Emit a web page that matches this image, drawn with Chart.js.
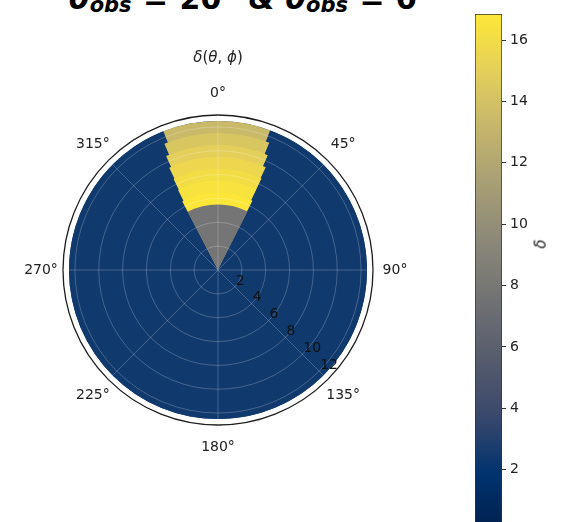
<!DOCTYPE html>
<html><head><meta charset="utf-8">
<script src="https://cdn.jsdelivr.net/npm/chart.js@4/dist/chart.umd.min.js"></script>
<style>
html,body{margin:0;padding:0;width:564px;height:522px;overflow:hidden;background:#fff;}
#wrap{position:relative;width:564px;height:522px;overflow:hidden;}
#polar{position:absolute;left:0;top:0;}
#cbar{position:absolute;left:470px;top:0;}
#suptitle{position:absolute;left:69px;top:-16px;font:bold 30px 'DejaVu Sans';white-space:nowrap;color:#000;line-height:30px;word-spacing:1px;}
#suptitle sub{font-size:21px;vertical-align:-3px;line-height:0;}
#cblabel{position:absolute;left:536px;top:235px;font:italic 15px 'DejaVu Sans';transform:rotate(-90deg);color:#222;}
</style></head>
<body><div id="wrap">
<div id="suptitle"><i>θ</i><sub><i>obs</i></sub> = 20° &amp; <i>θ</i><sub><i>obs</i></sub> = 0°</div>
<canvas id="polar" width="564" height="522"></canvas>
<canvas id="cbar" width="94" height="546"></canvas>
<div id="cblabel">δ</div>
</div>
<script>
// ---- data ----
const thetaLabels = ['0°','45°','90°','135°','180°','225°','270°','315°'];
const rTicks = [2, 4, 6, 8, 10, 12];
const rAxisMax = 13;
// radial rings of the bright fan (outer radius of each ring)
const ringOuterR  = [5.5, 6.5, 7.5, 8.5, 9.5, 10.5, 11.5, 12.5];
// half-width (deg) of the bright fan on the clockwise (right) and counter-clockwise (left) side
const ringHalfRight = [27, 26.5, 25.5, 25.5, 25, 23.5, 22, 20.5];
const ringHalfLeft  = [27.5, 27.5, 26.5, 26, 25.5, 24.5, 23, 21.5];
// delta value inside the fan for each ring
const ringDelta = [7.8, 16.8, 16.5, 16.1, 15.6, 15.0, 14.3, 13.4];
// delta value everywhere else, and the outer radius of the data
const backgroundDelta = 2.4;
const dataOuterR = 12.5;
// colour bar
const vmin = 0, vmax = 16.85;
const cbarTicks = [2, 4, 6, 8, 10, 12, 14, 16];

// ---- cividis colour map ----
const cividisStops = [[0,32,77],[0,51,111],[57,72,107],[87,92,109],[112,113,115],[138,135,121],[166,157,117],[196,181,108],[228,207,91],[253,231,55]];
function cividis(t){
  t = Math.max(0, Math.min(1, t));
  const n = cividisStops.length - 1, p = t * n, i = Math.min(Math.floor(p), n - 1), f = p - i;
  const a = cividisStops[i], b = cividisStops[i + 1];
  return 'rgb(' + a.map((v, k) => Math.round(v + (b[k] - v) * f)).join(',') + ')';
}
const colorFor = v => cividis((v - vmin) / (vmax - vmin));

// ---- build polarArea datasets: innermost first (drawn on top) ----
const bg = colorFor(backgroundDelta);
const datasets = ringOuterR.map((R, k) => {
  const hr = ringHalfRight[k], hl = ringHalfLeft[k];
  const angles = [hr, 360 - hr - hl, hl];
  const c = colorFor(ringDelta[k]);
  return { data: [R, R, R], backgroundColor: [c, bg, c], borderWidth: 0,
           angle: ctx => angles[ctx.dataIndex] };
});
datasets.push({ data: [dataOuterR], backgroundColor: [bg], borderWidth: 0, angle: () => 360 });

const textPlugin = {
  id: 'polarText',
  afterDraw(chart) {
    const s = chart.scales.r, ctx = chart.ctx;
    const xc = s.xCenter, yc = s.yCenter, R = s.drawingArea;
    ctx.save();
    ctx.fillStyle = '#222';
    ctx.font = "14px 'DejaVu Sans'";
    ctx.textAlign = 'center'; ctx.textBaseline = 'middle';
    thetaLabels.forEach((lab, i) => {
      const a = i * Math.PI / 4, d = R + 22;
      ctx.fillText(lab, xc + d * Math.sin(a), yc - d * Math.cos(a));
    });
    ctx.fillStyle = '#111';
    ctx.textAlign = 'left'; ctx.textBaseline = 'bottom';
    const ra = 135 * Math.PI / 180;
    rTicks.forEach(v => {
      const d = s.getDistanceFromCenterForValue(v);
      ctx.fillText(String(v), xc + d * Math.sin(ra) + 1, yc - d * Math.cos(ra) + 1);
    });
    // subplot title δ(θ, ϕ)
    const parts = [['δ', true], ['(', false], ['θ', true], [', ', false], ['ϕ', true], [')', false]];
    const fi = "italic 15px 'DejaVu Sans'", fn = "15px 'DejaVu Sans'";
    let w = 0;
    parts.forEach(p => { ctx.font = p[1] ? fi : fn; w += ctx.measureText(p[0]).width; });
    let x = xc - w / 2;
    ctx.fillStyle = '#222'; ctx.textBaseline = 'middle';
    parts.forEach(p => { ctx.font = p[1] ? fi : fn; ctx.fillText(p[0], x, yc - 212); x += ctx.measureText(p[0]).width; });
    ctx.restore();
  }
};

new Chart(document.getElementById('polar'), {
  type: 'polarArea',
  data: { labels: thetaLabels, datasets },
  options: {
    responsive: false, animation: false,
    layout: { padding: { left: 63, top: 115, right: 191, bottom: 97 } },
    plugins: { legend: { display: false }, tooltip: { enabled: false } },
    scales: {
      r: {
        min: 0, max: rAxisMax, startAngle: 0,
        afterBuildTicks: s => { s.ticks = [0, ...rTicks, rAxisMax].map(v => ({ value: v })); },
        ticks: { display: false },
        pointLabels: { display: false },
        angleLines: { display: true, color: 'rgba(255,255,255,0.28)', lineWidth: 0.8 },
        grid: {
          z: 1, circular: true,
          color: c => (c.tick && c.tick.value === rAxisMax) ? '#1e1e1e' : 'rgba(255,255,255,0.28)',
          lineWidth: c => (c.tick && c.tick.value === rAxisMax) ? 1.3 : 0.8
        }
      }
    }
  },
  plugins: [textPlugin]
});

new Chart(document.getElementById('cbar'), {
  type: 'bar',
  data: { labels: [''], datasets: [{
    data: [[vmin, vmax]],
    backgroundColor: ctx => {
      const ch = ctx.chart;
      if (!ch.chartArea) return 'rgba(0,0,0,0)';
      const y = ch.scales.y;
      const g = ch.ctx.createLinearGradient(0, y.getPixelForValue(vmin), 0, y.getPixelForValue(vmax));
      const n = cividisStops.length - 1;
      cividisStops.forEach((c, i) => g.addColorStop(i / n, 'rgb(' + c.join(',') + ')'));
      return g;
    },
    borderColor: '#333', borderWidth: 1, borderSkipped: false,
    barPercentage: 1, categoryPercentage: 1
  }]},
  options: {
    responsive: false, animation: false,
    layout: { padding: { left: 5, right: 0, top: 14, bottom: 15 } },
    plugins: { legend: { display: false }, tooltip: { enabled: false } },
    scales: {
      x: { display: false },
      y: {
        position: 'right', min: vmin, max: vmax,
        afterBuildTicks: s => { s.ticks = cbarTicks.map(v => ({ value: v })); },
        afterFit: s => { s.width = 62; },
        grid: { drawOnChartArea: false, drawTicks: true, tickLength: 4, color: '#333', lineWidth: 1 },
        border: { display: false },
        ticks: { padding: 4, color: '#222', font: { family: 'DejaVu Sans', size: 14 } }
      }
    }
  }
});
</script>
</body></html>
